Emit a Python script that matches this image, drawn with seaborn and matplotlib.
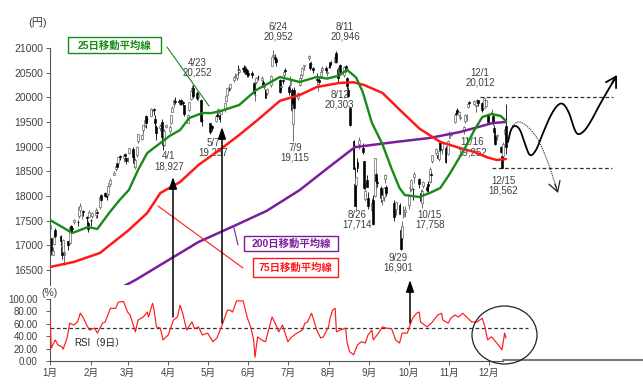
import numpy as np
import pandas as pd
import matplotlib
matplotlib.use("Agg")
import matplotlib.pyplot as plt
import seaborn as sns
from matplotlib.patches import Ellipse, FancyArrowPatch, Rectangle
from matplotlib.lines import Line2D

# ---------------- data ----------------
holidays = ["2015-01-12", "2015-02-11", "2015-04-29", "2015-05-04", "2015-05-05",
            "2015-05-06", "2015-07-20", "2015-09-21", "2015-09-22", "2015-09-23",
            "2015-10-12", "2015-11-03", "2015-11-23"]

open_ = [
    17325,17147,16808,17030,17318,17184,16960,16873,16797,17089,17055,17387,17361,17469,17470,17602,17726,17606,17687,
    17580,17458,17582,17505,17600,17620,17670,17770,18019,18058,17990,18040,18210,18240,18435,18549,18665,18660,18820,
    18773,18854,18771,18745,18875,18960,18730,18597,18822,19120,19165,19337,19429,19620,19569,19625,19717,19763,19563,19398,19370,19491,
    19244,19040,19404,19312,19473,19700,19864,19920,19931,19882,19949,19913,19839,19481,19745,19958,20127,20185,20097,19998,19952,
    19544,19470,19412,19520,19632,19673,19633,19668,19773,19926,20052,20207,20187,20344,20411,20396,20552,20504,
    20590,20641,20567,20549,20496,20492,20300,20042,20310,20420,20356,20303,20216,20119,20081,20240,20643,20845,20810,20780,20359,20207,
    20348,20445,20563,20200,20256,20157,19466,20150,19992,20255,20387,20456,20634,20791,20692,20675,20593,20376,20280,20358,20433,20550,
    20588,20502,20621,20715,20713,20713,20890,20567,20499,20664,20458,20641,20398,20142,19777,19107,18243,18219,18683,19060,18976,
    18710,17938,18318,17962,17722,17927,17994,18456,18288,18166,17925,17986,18337,18189,17857,17734,17811,17317,17139,
    17596,17667,17808,18156,18150,18143,18378,18344,18060,17858,18201,18183,18246,18278,18453,18701,18875,18829,18744,19094,18945,
    18981,18848,19175,19231,19509,19672,19735,19636,19578,19334,19514,19594,19803,19903,19865,19817,19914,19939,19893,
    19791,19948,19832,19640,19661,19624,19382,19215,19209,18986,18818,18817,19263,19410]
high_ = [
    17540,17158,16974,17243,17346,17205,16985,17131,16880,17089,17397,17405,17390,17531,17520,17795,17850,17681,17710,
    17600,17487,17710,17542,17684,17757,17720,17996,18034,18080,18030,18226,18285,18355,18500,18631,18674,18792,18828,
    18840,18869,18798,18792,18980,19000,18824,18780,19006,19260,19265,19437,19568,19636,19590,19778,19757,19778,19645,19434,19460,19560,
    19248,19360,19462,19436,19640,19829,19958,20006,19958,19952,19961,19927,19849,19655,19909,20133,20252,20240,20130,20111,19964,
    19594,19470,19442,19636,19700,19775,19640,19758,19894,20026,20196,20224,20264,20415,20500,20472,20655,20589,
    20615,20654,20613,20558,20518,20526,20318,20122,20407,20446,20432,20346,20281,20170,20188,20452,20811,20952,20875,20790,20363,20268,
    20379,20553,20598,20243,20431,20198,19855,20205,20103,20385,20464,20606,20665,20851,20716,20728,20621,20493,20335,20409,20596,20640,
    20645,20578,20666,20725,20748,20863,20946,20623,20633,20670,20636,20663,20422,20216,19803,19131,18588,18376,18774,19192,19081,
    18714,18264,18417,18087,17969,18023,18770,18488,18360,18210,18109,18181,18451,18229,17929,17880,17862,17379,17486,
    17798,17804,18036,18219,18335,18160,18487,18360,18124,18145,18300,18203,18305,18590,18504,18834,18974,18840,18905,19112,19089,
    19006,19132,19317,19302,19645,19733,19778,19724,19636,19415,19667,19665,19876,19931,19955,19853,19960,19944,19908,
    20012,19971,19949,19653,19767,19664,19445,19309,19263,19016,18837,19094,19373,19869]
low_ = [
    17219,16808,16808,17016,17148,16989,16717,16861,16592,16913,17024,17228,17288,17424,17384,17557,17684,17540,17589,
    17434,17271,17574,17385,17553,17561,17557,17744,17873,17980,17910,18008,18190,18207,18420,18506,18545,18631,18732,
    18680,18763,18645,18697,18860,18722,18596,18556,18793,19084,19141,19266,19402,19384,19471,19625,19638,19648,19382,19129,19326,19206,
    18927,19023,19381,19278,19466,19700,19804,19869,19870,19850,19835,19834,19615,19476,19720,19938,20082,19980,19938,19945,19490,
    19428,19257,19317,19500,19560,19600,19509,19663,19700,19904,20041,20131,20148,20314,20398,20358,20462,20497,
    20521,20497,20467,20411,20417,20383,20066,19925,20277,20347,20324,20202,20160,19990,20050,20213,20629,20832,20703,20627,20093,20142,
    20266,20421,20462,20055,20224,19706,19115,19766,19947,20225,20317,20439,20556,20755,20561,20627,20494,20289,20137,20268,20409,20496,
    20503,20433,20586,20603,20672,20697,20701,20303,20413,20470,20403,20513,20166,20002,19422,18540,17806,17714,18484,18949,18852,
    18138,17900,18173,17737,17666,17415,17986,18136,18178,17885,17820,17889,18261,18007,17497,17605,17625,16901,17105,
    17562,17584,17740,18075,18107,17918,18273,18164,17883,17758,18155,18087,18075,18264,18280,18668,18829,18743,18700,18871,18852,
    18670,18840,19175,19216,19480,19627,19674,19612,19537,19252,19486,19524,19785,19815,19844,19710,19872,19834,19701,
    19778,19874,19812,19475,19651,19436,19177,19034,19135,18874,18562,18806,19220,18849]
close_ = [
    17408,16883,16885,17167,17197,17087,16795,17108,16864,17014,17366,17280,17329,17511,17468,17768,17795,17606,17674,
    17558,17335,17678,17504,17648,17711,17652,17979,17913,18004,17987,18199,18264,18332,18466,18603,18585,18785,18797,
    18826,18815,18703,18751,18971,18790,18665,18723,18991,19254,19246,19437,19544,19476,19560,19754,19713,19746,19471,19285,19411,19206,
    19034,19312,19435,19397,19640,19789,19937,19907,19905,19908,19869,19885,19652,19634,19909,20133,20187,20020,19983,20058,19520,
    19531,19292,19379,19620,19624,19764,19570,19732,19890,20026,20196,20202,20264,20413,20437,20472,20551,20563,
    20569,20543,20473,20488,20460,20457,20096,20046,20382,20407,20387,20257,20219,19990,20174,20428,20809,20868,20771,20706,20109,20235,
    20329,20522,20539,20112,20376,19737,19855,19779,20089,20385,20463,20600,20650,20841,20593,20683,20544,20350,20328,20302,20522,20585,
    20548,20520,20614,20664,20724,20808,20720,20392,20595,20519,20620,20554,20222,20033,19435,18540,17806,18376,18574,19136,18890,
    18165,18095,18182,17792,17860,17427,18770,18299,18264,17965,18026,18171,18432,18070,17571,17880,17645,16930,17388,
    17722,17725,18005,18186,18322,18141,18438,18234,17891,18096,18291,18131,18207,18554,18435,18825,18947,18777,18903,18935,19083,
    18683,19116,19265,19265,19642,19671,19697,19697,19596,19393,19649,19649,19860,19879,19925,19847,19944,19883,19747,
    19990,19938,19940,19504,19698,19492,19301,19046,19230,18883,18565,19049,19353,18986]

ma25_dates = ["01-05","01-22","02-03","02-10","02-19","02-27","03-06","03-13","03-20","03-30","04-06",
              "04-14","04-21","05-01","05-08","05-15","05-29","06-11","06-29","07-14","07-27","08-04",
              "08-13","08-19","08-26","08-31","09-07","09-15","09-22","09-28","10-02","10-13","10-21",
              "10-29","11-05","11-16","11-24","11-30","12-07","12-14","12-18"]
ma25_vals = [17514,17250,17372,17331,17656,17919,18122,18527,18872,19074,19216,
             19338,19581,19682,19682,19723,19845,20149,20412,20311,20412,20380,
             20440,20560,20400,20108,19480,19050,18550,18162,18020,17980,18061,
             18162,18440,18933,19338,19601,19662,19622,19520]

ma75_dates = ["01-05","01-23","02-12","03-06","03-20","03-30","04-14","04-28","05-14","05-29","06-12",
              "06-29","07-14","07-27","08-13","08-24","09-01","09-15","09-30","10-13","10-29","11-13",
              "11-24","12-03","12-11","12-18"]
ma75_vals = [16561,16662,16845,17311,17656,18061,18284,18629,18933,19237,19541,
             19930,20047,20209,20291,20305,20250,20090,19700,19370,19095,18973,
             18892,18790,18730,18750]

ma200_dates = ["03-02","03-11","04-28","05-25","06-19","07-14","08-06","08-25","09-01","09-25",
               "10-21","11-13","11-27","12-08","12-18"]
ma200_vals = [16170,16297,17068,17392,17700,18120,18600,18990,19014,19095,
              19176,19297,19399,19480,19500]

rsi_dates = ["01-05","01-06","01-09","01-11","01-14","01-15","01-18","01-20","01-23","01-26","01-28","01-30",
             "02-02","02-04","02-08","02-10","02-14","02-16","02-20","02-24","02-26",
             "03-02","03-05","03-07","03-11","03-13","03-17","03-20","03-21","03-24","03-25","03-27","03-30",
             "04-01","04-05","04-09","04-12","04-14","04-16","04-19","04-23","04-25","04-28",
             "05-01","05-05","05-09","05-12","05-16","05-20","05-22","05-24","05-27",
             "06-01","06-04","06-07","06-09","06-10","06-12","06-15","06-18","06-20","06-23","06-26","06-28",
             "07-01","07-05","07-08","07-12","07-16","07-18","07-20","07-23","07-24","07-27","07-30",
             "08-01","08-05","08-06","08-08","08-10","08-11","08-14","08-18","08-19","08-21","08-24","08-27","08-30",
             "09-02","09-04","09-07","09-08","09-12","09-15","09-18","09-22","09-25","09-28","09-30",
             "10-04","10-06","10-08","10-11","10-13","10-14","10-19","10-23","10-27","10-30","10-31",
             "11-04","11-06","11-09","11-12","11-15","11-18","11-22","11-26","11-30",
             "12-02","12-04","12-07","12-11","12-15","12-17","12-18"]
rsi_vals = [69,21,34,26,23,19,37,61,58,63,77,71,
            58,50,53,45,61,63,85,85,95,
            96,79,74,47,66,71,79,71,93,85,55,53,
            34,42,66,71,90,77,50,63,52,55,
            42,45,31,37,58,82,82,79,97,
            97,71,53,34,6,39,34,31,47,71,58,47,
            58,31,39,45,50,61,63,77,71,50,37,
            39,55,68,82,85,47,50,53,31,15,10,26,31,
            29,42,50,34,45,55,53,52,34,29,45,
            45,58,69,77,79,63,55,63,74,77,66,
            61,69,74,71,77,71,63,63,69,
            55,34,39,29,18,45,37]
rsi_ref = 53

month_labels = [f"{m}月" for m in range(1, 13)]

ann_dates = ["04-23", "06-24", "08-11", "12-01", "04-01", "05-07", "07-09",
             "08-12", "08-26", "09-29", "10-15", "11-16", "12-15"]
ann_vals = [20252, 20952, 20946, 20012, 18927, 19257, 19115,
            20303, 17714, 16901, 17758, 19252, 18562]

# ---------------- helpers ----------------
W, H = 643, 387
PXD = 1.314  # pixels per calendar day


def doy(strs):
    return (pd.to_datetime(["2015-" + s for s in strs]).dayofyear - 1).to_numpy().astype(float)


def fx(px):
    return px / W


def fy(py):
    return 1 - py / H


X0 = 4.0
X1 = X0 + 593 / PXD


def xd(px):
    return X0 + (px - 50) / PXD


def catmull(pts, n=14):
    P = np.asarray(pts, float)
    P = np.vstack([P[0], P, P[-1]])
    out = []
    for i in range(1, len(P) - 2):
        p0, p1, p2, p3 = P[i - 1], P[i], P[i + 1], P[i + 2]
        t = np.linspace(0, 1, n, endpoint=False)[:, None]
        out.append(0.5 * (2 * p1 + (-p0 + p2) * t + (2 * p0 - 5 * p1 + 4 * p2 - p3) * t ** 2
                          + (-p0 + 3 * p1 - 3 * p2 + p3) * t ** 3))
    out.append(P[-2][None, :])
    return np.vstack(out)


# ---------------- build frame ----------------
trade_dates = [d for d in pd.bdate_range("2015-01-05", "2015-12-18")
               if d.strftime("%Y-%m-%d") not in holidays]
for arr in (open_, high_, low_, close_):
    assert len(arr) == len(trade_dates), (len(arr), len(trade_dates))

df = pd.DataFrame({"date": trade_dates, "open": open_, "high": high_,
                   "low": low_, "close": close_})
df["x"] = df["date"].dt.dayofyear.astype(float) - 1
up = (df["close"] >= df["open"]).to_numpy()

# ---------------- style ----------------
sns.set_theme(style="white")
plt.rcParams["font.family"] = ["Liberation Sans", "Noto Sans CJK JP"]
plt.rcParams["axes.unicode_minus"] = False

GREEN = "#178a17"
RED = "#ff1a1a"
PURPLE = "#7a1e9c"
TXT = "#404040"

fig = plt.figure(figsize=(W / 100, H / 100), dpi=100)
fig.patch.set_facecolor("white")
ax = fig.add_axes([fx(50), fy(285), 593 / W, 245 / H])
rax = fig.add_axes([fx(50), fy(361), 593 / W, 64 / H])
for a in (ax, rax):
    a.set_facecolor("none")
    a.set_xlim(X0, X1)

ax.set_ylim(16196, 21162)
rax.set_ylim(0, 64 / 0.62)

# ---------------- candles ----------------
edge = np.where(up, "#555555", "black")
ax.vlines(df["x"], df["low"], df["high"], colors=edge, lw=0.6, zorder=2)
body = (df["close"] - df["open"]).abs().clip(lower=10)
ax.bar(df["x"], body, bottom=np.minimum(df["open"], df["close"]), width=1.45,
       color=np.where(up, "white", "black"), edgecolor=edge, linewidth=0.45, zorder=2.5)

# ---------------- moving averages ----------------
sns.lineplot(x=doy(ma200_dates), y=ma200_vals, ax=ax, color=PURPLE, linewidth=1.8,
             estimator=None, legend=False, zorder=3)
sns.lineplot(x=doy(ma75_dates), y=ma75_vals, ax=ax, color=RED, linewidth=1.8,
             estimator=None, legend=False, zorder=3.1)
sns.lineplot(x=doy(ma25_dates), y=ma25_vals, ax=ax, color=GREEN, linewidth=1.7,
             estimator=None, legend=False, zorder=3.2)
for ln in ax.get_lines():
    ln.set_solid_joinstyle("round")

# ---------------- high / low annotations ----------------
ann_off = [(5, -17.4), (4.6, -19), (8.5, -19), (-3.6, -19), (6, 11), (3, 14), (2, 11.5),
           (2, 17), (1, 10), (-3, 12.5), (8, 12), (8, 13), (1, 17.5)]
for s, v, (dx, dy) in zip(ann_dates, ann_vals, ann_off):
    m, d = s.split("-")
    ax.annotate(f"{int(m)}/{int(d)}\n{v:,}", xy=(doy([s])[0], v),
                xytext=(dx * 0.72, -dy * 0.72), textcoords="offset points",
                ha="center", va="center", fontsize=7, color=TXT, linespacing=0.95,
                annotation_clip=False, zorder=2.8)

# price levels
ax.hlines(20012, xd(480), xd(613), colors="#333333", linestyles=(0, (3, 2)), lw=0.9, zorder=2)
ax.hlines(18562, xd(492), xd(612), colors="#333333", linestyles=(0, (3, 2)), lw=0.9, zorder=2)

# main axis styling
ax.set_xticks([])
ax.set_yticks(range(16500, 21001, 500))
ax.set_yticklabels([str(v) for v in range(16500, 21001, 500)])
ax.tick_params(axis="y", labelsize=7.5, colors="#444444", labelcolor=TXT,
               length=3, width=0.6, direction="out", pad=2, left=True)
for sp in ("top", "right", "bottom"):
    ax.spines[sp].set_visible(False)
ax.spines["left"].set_color("#555555")
ax.spines["left"].set_linewidth(0.8)
ax.spines["left"].set_bounds(16196, 21000)

# ---------------- RSI ----------------
sns.lineplot(x=doy(rsi_dates), y=rsi_vals, ax=rax, color=RED, linewidth=0.85,
             estimator=None, legend=False, zorder=3)
rax.hlines(rsi_ref, X0, xd(528), colors="#333333", linestyles=(0, (3, 2)), lw=0.9, zorder=2)
rax.set_yticks(range(0, 101, 20))
rax.set_yticklabels([f"{v:.2f}" for v in range(0, 101, 20)])
rax.set_xticks(doy([f"{m:02d}-05" for m in range(1, 13)]))
rax.set_xticklabels(month_labels)
rax.tick_params(axis="y", labelsize=7, labelcolor=TXT, colors="#444444",
                length=3, width=0.6, direction="out", pad=6, left=True)
rax.tick_params(axis="x", labelsize=7, labelcolor=TXT, colors="#444444",
                length=3, width=0.6, direction="out", pad=2, bottom=True)
for sp in ("top", "right"):
    rax.spines[sp].set_visible(False)
rax.spines["left"].set_color("#555555")
rax.spines["left"].set_linewidth(0.8)
rax.spines["left"].set_bounds(0, 100)
rax.spines["bottom"].set_color("#555555")
rax.spines["bottom"].set_linewidth(0.8)
rax.spines["bottom"].set_bounds(X0, xd(503))
rax.set_xlabel("")
rax.set_ylabel("")
ax.set_xlabel("")
ax.set_ylabel("")

fig.add_artist(Line2D([fx(503), fx(643)], [fy(359.5), fy(359.5)], color="#7a7a7a", lw=1.5))

# ---------------- texts ----------------
fig.text(fx(38), fy(23), "(円)", ha="center", va="center", fontsize=8, color=TXT)
fig.text(fx(50), fy(293), "(%)", ha="center", va="center", fontsize=7.5, color=TXT)
fig.text(fx(100), fy(343), "RSI（9日）", ha="center", va="center", fontsize=7, color="#222222")

# label boxes
boxes = [("25日移動平均線", GREEN, 68, 37, 93, 16),
         ("200日移動平均線", PURPLE, 244, 236, 94, 15),
         ("75日移動平均線", RED, 253, 258, 85, 19)]
for txt, col, bx, by, bw, bh in boxes:
    fig.add_artist(Rectangle((fx(bx), fy(by + bh)), bw / W, bh / H, transform=fig.transFigure,
                             facecolor="white", edgecolor=col, lw=1.0, zorder=5))
    fig.text(fx(bx + bw / 2), fy(by + bh / 2 + 0.5), txt, ha="center", va="center",
             fontsize=7.5, fontweight="bold", color=col, zorder=6)

# leader lines
fig.add_artist(Line2D([fx(167), fx(209)], [fy(47), fy(106)], color=GREEN, lw=0.8, zorder=4))
fig.add_artist(Line2D([fx(158), fx(243)], [fy(206), fy(268)], color=RED, lw=0.8, zorder=4))
fig.add_artist(Line2D([fx(234), fx(238)], [fy(228), fy(245)], color=PURPLE, lw=0.8, zorder=4))

# vertical arrows
for x0, yb, yt in [(173, 317, 177), (222, 323, 127), (410, 323, 280)]:
    fig.add_artist(FancyArrowPatch((fx(x0), fy(yb)), (fx(x0), fy(yt)), transform=fig.transFigure,
                                   arrowstyle="-|>,head_length=0.5,head_width=0.17",
                                   mutation_scale=14, lw=1.1, color="black", zorder=6,
                                   shrinkA=0, shrinkB=0))

# projection curves
wave = [(508, 142), (511, 130), (515, 126), (520, 130), (525, 144), (530, 155), (536, 150),
        (543, 133), (550, 117), (557, 106), (563, 104), (569, 113), (574, 128), (578, 134),
        (584, 131), (591, 121), (599, 106), (607, 92), (614, 80)]
wc = catmull(wave)
fig.add_artist(Line2D(fx(wc[:, 0]), fy(wc[:, 1]), color="black", lw=1.3, zorder=6))
fig.add_artist(FancyArrowPatch((fx(612), fy(83.5)), (fx(617), fy(75)), transform=fig.transFigure,
                               arrowstyle="->,head_length=0.6,head_width=0.35",
                               mutation_scale=12, lw=1.3, color="black", zorder=6,
                               shrinkA=0, shrinkB=0))
dots = [(512, 126), (518, 122), (524, 124), (530, 129), (537, 138), (543, 150), (550, 168), (556, 187)]
dc = catmull(dots)
fig.add_artist(Line2D(fx(dc[:, 0]), fy(dc[:, 1]), color="#222222", lw=0.8, ls=(0, (1, 1)), zorder=6))
fig.add_artist(FancyArrowPatch((fx(555), fy(184)), (fx(558), fy(193)), transform=fig.transFigure,
                               arrowstyle="->,head_length=0.6,head_width=0.35",
                               mutation_scale=12, lw=0.9, color="#222222", zorder=6,
                               shrinkA=0, shrinkB=0))

# circle
fig.add_artist(Ellipse((fx(504.5), fy(335)), 65 / W, 58 / H, transform=fig.transFigure,
                       fill=False, edgecolor="#222222", lw=0.9, zorder=6))

fig.savefig("out.png", dpi=100)
